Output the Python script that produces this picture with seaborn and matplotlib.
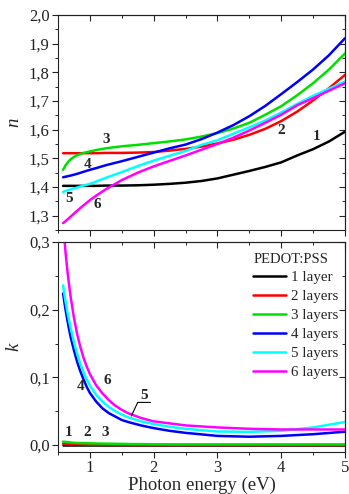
import numpy as np
import pandas as pd
import matplotlib
matplotlib.use("Agg")
import matplotlib.pyplot as plt
from matplotlib.ticker import MultipleLocator, FuncFormatter
from matplotlib.lines import Line2D
import seaborn as sns

# ---------------- data ----------------
layers = ["1 layer", "2 layers", "3 layers", "4 layers", "5 layers", "6 layers"]
colors = ["#000000", "#ff0000", "#00e000", "#0000ff", "#00ffff", "#ff00ff"]

E_n = [0.58, 0.62, 0.66, 0.7, 0.75, 0.8, 0.9, 1.0, 1.1, 1.25, 1.5, 1.75, 2.0, 2.25,
       2.5, 2.75, 3.0, 3.25, 3.5, 3.75, 4.0, 4.25, 4.5, 4.75, 5.0]
n_1 = [1.404, 1.404, 1.404, 1.404, 1.404, 1.404, 1.404, 1.404, 1.404, 1.405, 1.405,
       1.406, 1.408, 1.411, 1.415, 1.421, 1.430, 1.443, 1.456, 1.470, 1.486, 1.510,
       1.532, 1.559, 1.593]
n_2 = [1.518, 1.518, 1.518, 1.518, 1.518, 1.518, 1.518, 1.518, 1.518, 1.519, 1.519,
       1.520, 1.522, 1.527, 1.533, 1.541, 1.552, 1.565, 1.582, 1.603, 1.630, 1.663,
       1.702, 1.745, 1.791]
n_3 = [1.460, 1.476, 1.488, 1.497, 1.505, 1.511, 1.519, 1.524, 1.529, 1.535, 1.542,
       1.547, 1.553, 1.559, 1.566, 1.576, 1.588, 1.604, 1.624, 1.652, 1.682, 1.720,
       1.762, 1.810, 1.866]
n_4 = [1.434, 1.436, 1.438, 1.440, 1.443, 1.446, 1.453, 1.460, 1.466, 1.476, 1.490,
       1.505, 1.520, 1.535, 1.548, 1.567, 1.590, 1.616, 1.647, 1.683, 1.724, 1.766,
       1.810, 1.860, 1.919]
n_5 = [1.383, 1.386, 1.389, 1.392, 1.395, 1.398, 1.405, 1.411, 1.419, 1.432, 1.452,
       1.473, 1.492, 1.509, 1.526, 1.547, 1.563, 1.586, 1.608, 1.632, 1.660, 1.690,
       1.718, 1.743, 1.768]
n_6 = [1.274, 1.281, 1.289, 1.297, 1.307, 1.317, 1.336, 1.354, 1.370, 1.392, 1.424,
       1.450, 1.472, 1.491, 1.510, 1.530, 1.550, 1.572, 1.597, 1.624, 1.652, 1.685,
       1.710, 1.736, 1.762]

E_k = [0.58, 0.6, 0.62, 0.65, 0.68, 0.7, 0.75, 0.8, 0.85, 0.9, 0.95, 1.0, 1.1, 1.2,
       1.3, 1.4, 1.5, 1.6, 1.8, 2.0, 2.25, 2.5, 3.0, 3.5, 4.0, 4.5, 5.0]
k_1 = [0.0] * 27
k_2 = [0.002, 0.002, 0.0018, 0.0015, 0.0013, 0.0012, 0.0011, 0.001, 0.0009, 0.0008,
       0.0006, 0.0005, 0.0003, 0.0002, 0.0001, 0.0, 0.0, 0.0, 0.0, 0.0, 0.0, 0.0,
       0.0, 0.0, 0.0, 0.0, 0.0]
k_3 = [0.005, 0.0048, 0.0046, 0.0042, 0.0039, 0.0037, 0.0033, 0.003, 0.0029, 0.0028,
       0.0026, 0.0025, 0.0023, 0.0021, 0.002, 0.0018, 0.0017, 0.0015, 0.0013, 0.0011,
       0.001, 0.001, 0.001, 0.001, 0.001, 0.001, 0.001]
k_4 = [0.224, 0.211, 0.199, 0.183, 0.168, 0.159, 0.140, 0.123, 0.109, 0.097, 0.086,
       0.077, 0.064, 0.054, 0.047, 0.042, 0.037, 0.034, 0.029, 0.025, 0.021, 0.018,
       0.0135, 0.0123, 0.0135, 0.016, 0.0197]
k_5 = [0.236, 0.223, 0.211, 0.195, 0.181, 0.172, 0.152, 0.135, 0.120, 0.108, 0.097,
       0.088, 0.074, 0.064, 0.056, 0.050, 0.045, 0.041, 0.035, 0.031, 0.027, 0.024,
       0.020, 0.0195, 0.021, 0.026, 0.034]
k_6 = [0.330, 0.305, 0.283, 0.255, 0.232, 0.218, 0.188, 0.164, 0.145, 0.129, 0.116,
       0.105, 0.088, 0.076, 0.066, 0.058, 0.052, 0.047, 0.040, 0.035, 0.032, 0.029,
       0.026, 0.024, 0.023, 0.023, 0.023]

n_series = [n_1, n_2, n_3, n_4, n_5, n_6]
k_series = [k_1, k_2, k_3, k_4, k_5, k_6]

df_n = pd.concat([pd.DataFrame({"E": E_n, "v": v, "layer": lab})
                  for v, lab in zip(n_series, layers)], ignore_index=True)
df_k = pd.concat([pd.DataFrame({"E": E_k, "v": v, "layer": lab})
                  for v, lab in zip(k_series, layers)], ignore_index=True)

# ---------------- style ----------------
sns.set_style("ticks")
plt.rcParams["font.family"] = ["Liberation Serif", "DejaVu Serif"]
plt.rcParams["axes.linewidth"] = 0.8

palette = dict(zip(layers, colors))
LW = 1.8

fig = plt.figure(figsize=(3.49, 4.94), dpi=100)
ax1 = fig.add_axes([0.1662, 0.5344, 0.8223, 0.4352])
ax2 = fig.add_axes([0.1662, 0.0850, 0.8223, 0.4251])

sns.lineplot(data=df_n, x="E", y="v", hue="layer", palette=palette,
             estimator=None, sort=False, lw=LW, legend=False, ax=ax1)
sns.lineplot(data=df_k, x="E", y="v", hue="layer", palette=palette,
             estimator=None, sort=False, lw=LW, legend=False, ax=ax2)

comma = FuncFormatter(lambda v, p: f"{v:.1f}".replace(".", ","))

for ax in (ax1, ax2):
    ax.set_xlim(0.5, 5.0)
    ax.xaxis.set_major_locator(MultipleLocator(1))
    ax.xaxis.set_minor_locator(MultipleLocator(0.5))
    ax.yaxis.set_major_locator(MultipleLocator(0.1))
    ax.yaxis.set_minor_locator(MultipleLocator(0.05))
    ax.yaxis.set_major_formatter(comma)
    ax.tick_params(which="major", direction="out", length=4, width=0.8,
                   labelsize=12, pad=2, colors="#222222")
    ax.tick_params(which="minor", direction="out", length=2.5, width=0.7)
    for s in ax.spines.values():
        s.set_color("#222222")
    # inward ticks on top and right
    sx = ax.secondary_xaxis("top")
    sx.xaxis.set_major_locator(MultipleLocator(1))
    sx.xaxis.set_minor_locator(MultipleLocator(0.5))
    sx.tick_params(which="major", direction="in", length=4, width=0.8, labeltop=False)
    sx.tick_params(which="minor", direction="in", length=2.5, width=0.7)
    sy = ax.secondary_yaxis("right")
    sy.yaxis.set_major_locator(MultipleLocator(0.1))
    sy.yaxis.set_minor_locator(MultipleLocator(0.05))
    sy.tick_params(which="major", direction="in", length=4, width=0.8, labelright=False)
    sy.tick_params(which="minor", direction="in", length=2.5, width=0.7)

ax1.set_ylim(1.25, 2.0)
ax1.tick_params(labelbottom=False)
ax1.set_xlabel("")
ax1.set_ylabel("n", fontsize=13.5, style="italic", labelpad=5)

ax2.set_ylim(-0.0103, 0.3)
ax2.set_xlabel("Photon energy (eV)", fontsize=13.5, labelpad=0)
ax2.set_ylabel("k", fontsize=13.5, style="italic", labelpad=5)

# curve numbers
bold = dict(fontsize=11, fontweight="bold", ha="center", va="center")
for t, x, y in [("1", 4.55, 1.575), ("2", 4.0, 1.596), ("3", 1.25, 1.565),
                ("4", 0.97, 1.477), ("5", 0.67, 1.359), ("6", 1.11, 1.338)]:
    ax1.text(x, y, t, **bold)
for t, x, y in [("1", 0.67, 0.019), ("2", 0.95, 0.018), ("3", 1.24, 0.018),
                ("4", 0.85, 0.086), ("6", 1.27, 0.095), ("5", 1.85, 0.073)]:
    ax2.text(x, y, t, **bold)
ax2.annotate("", xy=(1.65, 0.043), xytext=(1.75, 0.063),
             arrowprops=dict(arrowstyle="-", lw=0.8, color="black", shrinkA=0, shrinkB=0))
ax2.annotate("", xy=(1.75, 0.063), xytext=(1.95, 0.063),
             arrowprops=dict(arrowstyle="-", lw=0.8, color="black", shrinkA=0, shrinkB=0))

handles = [Line2D([], [], color=c, lw=LW) for c in colors]
leg = ax2.legend(handles, layers, title="PEDOT:PSS", frameon=False,
                 loc="upper right", bbox_to_anchor=(1.012, 1.0),
                 fontsize=10.8, title_fontsize=10.5, alignment="left",
                 handlelength=2.2, handletextpad=0.3, labelspacing=0.36,
                 borderaxespad=0.3)

fig.savefig("out.png", dpi=100)
